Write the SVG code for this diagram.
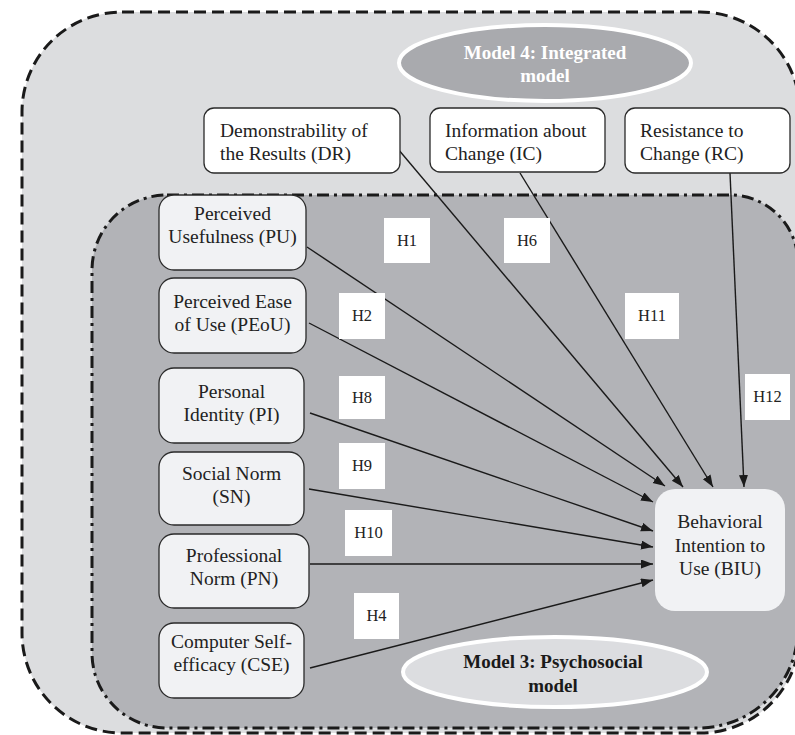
<svg xmlns="http://www.w3.org/2000/svg" width="795" height="735" viewBox="0 0 795 735">
  <defs>
    <marker id="arrow" markerUnits="userSpaceOnUse" markerWidth="13" markerHeight="10" refX="12" refY="4.5" orient="auto">
      <path d="M0,0 L12,4.5 L0,9 z" fill="#1a1a1a"/>
    </marker>
    <style>
      .outer { fill: #dcdddf; stroke: #1a1a1a; stroke-width: 3; stroke-dasharray: 12 6; }
      .inner { fill: #b2b3b7; stroke: #1a1a1a; stroke-width: 3; stroke-dasharray: 12 5 3 5; }
      .box-w { fill: #ffffff; stroke: #2a2a2a; stroke-width: 1.3; }
      .box-g { fill: #f1f2f4; stroke: #2a2a2a; stroke-width: 1.3; }
      .box-t { fill: #f1f2f4; stroke: none; }
      .lbl { font-family: "Liberation Serif", "Times New Roman", serif; font-size: 19.5px; fill: #222; }
      .mid { text-anchor: middle; }
      .hyp rect { fill: #ffffff; }
      .hyp text { font-family: "Liberation Serif", "Times New Roman", serif; font-size: 16.5px; fill: #222; text-anchor: middle; }
      .title { font-family: "Liberation Serif", "Times New Roman", serif; font-size: 19px; font-weight: bold; text-anchor: middle; }
      .conn line { stroke: #1a1a1a; stroke-width: 1.4; marker-end: url(#arrow); }
    </style>
  </defs>

  <!-- model frames -->
  <g id="model4-frame">
    <path class="outer" d="M122,12 H700 A100,100 0 0 1 800,112 V633 A100,100 0 0 1 700,733 H122 A100,100 0 0 1 22,633 V112 A100,100 0 0 1 122,12 Z"/>
  </g>
  <g id="model3-frame">
    <path class="inner" d="M167,195 H730 A68,68 0 0 1 798,263 V628 A100,100 0 0 1 698,728 H167 A75,75 0 0 1 92,653 V270 A75,75 0 0 1 167,195 Z"/>
  </g>

  <!-- model titles -->
  <g id="model4-title">
    <ellipse cx="545" cy="63" rx="146" ry="38" fill="#a9aaae" stroke="#ffffff" stroke-width="4"/>
    <text class="title" x="545" y="59" fill="#ffffff">Model 4: Integrated</text>
    <text class="title" x="545" y="82" fill="#ffffff">model</text>
  </g>
  <g id="model3-title">
    <ellipse cx="555" cy="672" rx="152" ry="35" fill="#dcdde0" stroke="#ffffff" stroke-width="4"/>
    <text class="title" x="553" y="668" fill="#1a1a1a">Model 3: Psychosocial</text>
    <text class="title" x="553" y="692" fill="#1a1a1a">model</text>
  </g>

  <!-- connectors -->
  <g id="connectors" class="conn">
    <line x1="398" y1="149" x2="683" y2="487"/>
    <line x1="520" y1="173" x2="713" y2="487"/>
    <line x1="730" y1="173" x2="744" y2="487"/>
    <line x1="307" y1="247" x2="665" y2="486"/>
    <line x1="309" y1="323" x2="653" y2="502"/>
    <line x1="310" y1="413" x2="653" y2="531"/>
    <line x1="309" y1="489" x2="653" y2="547"/>
    <line x1="310" y1="564" x2="653" y2="564"/>
    <line x1="310" y1="668" x2="653" y2="580"/>
  </g>

  <!-- hypothesis labels -->
  <g id="hypotheses" class="hyp">
    <g id="h1"><rect x="384" y="218" width="46" height="45"/><text x="407" y="246">H1</text></g>
    <g id="h6"><rect x="504" y="218" width="46" height="45"/><text x="527" y="246">H6</text></g>
    <g id="h11"><rect x="625" y="293" width="54" height="46"/><text x="652" y="321">H11</text></g>
    <g id="h12"><rect x="745" y="374" width="45" height="46"/><text x="767.5" y="402">H12</text></g>
    <g id="h2"><rect x="339" y="293" width="46" height="46"/><text x="362" y="321">H2</text></g>
    <g id="h8"><rect x="339" y="376" width="46" height="43"/><text x="362" y="403">H8</text></g>
    <g id="h9"><rect x="339" y="443" width="46" height="46"/><text x="362" y="471">H9</text></g>
    <g id="h10"><rect x="345" y="510" width="47" height="46"/><text x="368.5" y="538">H10</text></g>
    <g id="h4"><rect x="354" y="593" width="45" height="46"/><text x="376.5" y="621">H4</text></g>
  </g>

  <!-- organisational factors -->
  <g id="node-dr">
    <rect class="box-w" x="204" y="108" width="196" height="65" rx="10"/>
    <text class="lbl" x="220" y="137">Demonstrability of</text>
    <text class="lbl" x="220" y="160">the Results (DR)</text>
  </g>
  <g id="node-ic">
    <rect class="box-w" x="430" y="108" width="175" height="64" rx="10"/>
    <text class="lbl" x="445" y="137">Information about</text>
    <text class="lbl" x="445" y="160">Change (IC)</text>
  </g>
  <g id="node-rc">
    <rect class="box-w" x="625" y="108" width="165" height="65" rx="10"/>
    <text class="lbl" x="640" y="137">Resistance to</text>
    <text class="lbl" x="640" y="160">Change (RC)</text>
  </g>

  <!-- psychosocial factors -->
  <g id="node-pu">
    <rect class="box-g" x="159" y="195" width="147" height="75" rx="15"/>
    <text class="lbl mid" x="232.5" y="220">Perceived</text>
    <text class="lbl mid" x="232.5" y="243">Usefulness (PU)</text>
  </g>
  <g id="node-peou">
    <rect class="box-g" x="159" y="278" width="147" height="75" rx="15"/>
    <text class="lbl mid" x="232.5" y="308">Perceived Ease</text>
    <text class="lbl mid" x="232.5" y="331">of Use (PEoU)</text>
  </g>
  <g id="node-pi">
    <rect class="box-g" x="159" y="368" width="145" height="75" rx="15"/>
    <text class="lbl mid" x="231.5" y="398">Personal</text>
    <text class="lbl mid" x="231.5" y="421">Identity (PI)</text>
  </g>
  <g id="node-sn">
    <rect class="box-g" x="159" y="452" width="145" height="73" rx="15"/>
    <text class="lbl mid" x="231.5" y="480">Social Norm</text>
    <text class="lbl mid" x="231.5" y="503">(SN)</text>
  </g>
  <g id="node-pn">
    <rect class="box-g" x="159" y="534" width="150" height="74" rx="15"/>
    <text class="lbl mid" x="234" y="562">Professional</text>
    <text class="lbl mid" x="234" y="585">Norm (PN)</text>
  </g>
  <g id="node-cse">
    <rect class="box-g" x="159" y="623" width="145" height="75" rx="15"/>
    <text class="lbl mid" x="231.5" y="648">Computer Self-</text>
    <text class="lbl mid" x="231.5" y="671">efficacy (CSE)</text>
  </g>

  <!-- outcome -->
  <g id="node-biu">
    <rect class="box-t" x="655" y="489" width="130" height="122" rx="20"/>
    <text class="lbl mid" x="720" y="528">Behavioral</text>
    <text class="lbl mid" x="720" y="552">Intention to</text>
    <text class="lbl mid" x="720" y="575">Use (BIU)</text>
  </g>
</svg>
